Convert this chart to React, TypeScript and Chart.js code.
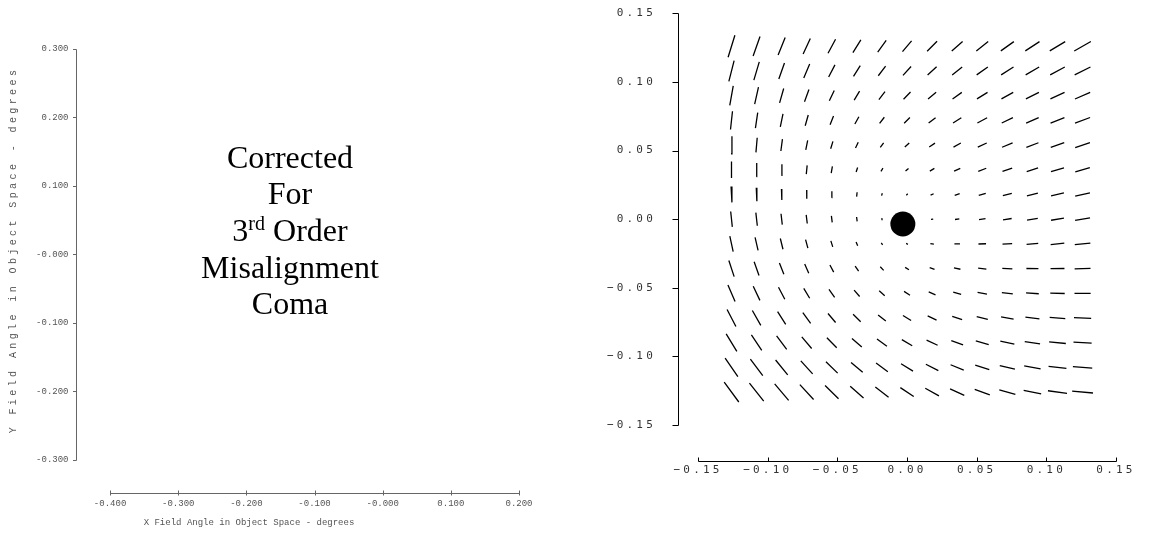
import React, { useEffect, useRef } from 'react';
import { Chart, registerables } from 'chart.js';

Chart.register(...registerables);

// ---------- Right panel: full-field display (line segments) ----------
const GRID_X = [-0.126, -0.108, -0.09, -0.072, -0.054, -0.036, -0.018, 0, 0.018, 0.036, 0.054, 0.072, 0.09, 0.108, 0.126];
const GRID_Y = [0.126, 0.108, 0.09, 0.072, 0.054, 0.036, 0.018, 0, -0.018, -0.036, -0.054, -0.072, -0.09, -0.108, -0.126];

// Astigmatism vector components per field point (rows top->bottom, columns left->right), arbitrary units
const ASTIG_X = [
  [-19.1, -16.4, -13.8, -11.4, -9.0, -6.7, -4.5, -2.4, -0.4, 1.5, 3.3, 5.0, 6.6, 8.1, 9.5],
  [-19.0, -16.1, -13.3, -10.6, -8.1, -5.7, -3.4, -1.3, 0.8, 2.7, 4.5, 6.1, 7.6, 9.0, 10.3],
  [-18.8, -15.7, -12.8, -10.0, -7.4, -4.9, -2.6, -0.4, 1.7, 3.6, 5.4, 7.0, 8.5, 9.8, 11.0],
  [-18.1, -15.1, -12.3, -9.6, -7.0, -4.5, -2.2, 0.0, 2.1, 4.0, 5.9, 7.6, 9.1, 10.6, 11.9],
  [-17.4, -14.5, -11.7, -9.0, -6.5, -4.1, -1.8, 0.4, 2.5, 4.4, 6.2, 7.9, 9.5, 10.9, 12.2],
  [-16.5, -13.8, -11.2, -8.7, -6.3, -3.9, -1.7, 0.4, 2.5, 4.4, 6.3, 8.0, 9.7, 11.2, 12.7],
  [-15.9, -13.5, -11.1, -8.8, -6.5, -4.3, -2.1, 0.0, 2.1, 4.1, 6.1, 8.0, 9.9, 11.7, 13.5],
  [-15.2, -12.9, -10.7, -8.5, -6.4, -4.2, -2.1, 0.0, 2.1, 4.1, 6.2, 8.2, 10.2, 12.2, 14.1],
  [-14.6, -12.2, -9.9, -7.6, -5.3, -3.0, -0.9, 1.3, 3.4, 5.5, 7.5, 9.5, 11.4, 13.3, 15.2],
  [-13.8, -11.4, -9.1, -6.9, -4.6, -2.4, -0.3, 1.8, 3.9, 6.0, 8.0, 9.9, 11.9, 13.8, 15.7],
  [-12.5, -10.2, -7.9, -5.7, -3.5, -1.3, 0.8, 2.9, 4.9, 6.8, 8.8, 10.6, 12.5, 14.3, 16.0],
  [-11.3, -9.0, -6.6, -4.4, -2.2, 0.0, 2.1, 4.2, 6.2, 8.1, 10.0, 11.8, 13.6, 15.3, 17.0],
  [-9.6, -7.3, -5.0, -2.7, -0.5, 1.6, 3.6, 5.6, 7.6, 9.4, 11.3, 13.0, 14.7, 16.3, 17.9],
  [-8.4, -6.2, -4.1, -2.0, 0.1, 2.2, 4.2, 6.1, 8.1, 10.0, 11.9, 13.7, 15.5, 17.3, 19.0],
  [-7.6, -5.7, -3.8, -1.9, 0.1, 2.0, 4.0, 6.0, 8.0, 10.0, 12.1, 14.1, 16.2, 18.3, 20.4],
];
const ASTIG_Y = [
  [12.9, 12.9, 13.0, 13.0, 13.2, 13.4, 13.6, 13.8, 14.1, 14.4, 14.7, 15.1, 15.5, 16.0, 16.5],
  [10.1, 10.3, 10.6, 10.8, 11.1, 11.4, 11.6, 11.9, 12.2, 12.5, 12.8, 13.2, 13.5, 13.8, 14.2],
  [6.8, 7.4, 7.8, 8.3, 8.8, 9.2, 9.6, 10.0, 10.4, 10.7, 11.1, 11.4, 11.7, 12.0, 12.3],
  [3.9, 4.5, 5.2, 5.8, 6.4, 7.0, 7.5, 8.0, 8.5, 8.9, 9.3, 9.7, 10.1, 10.4, 10.7],
  [1.8, 2.5, 3.1, 3.7, 4.3, 4.9, 5.4, 6.0, 6.5, 7.1, 7.6, 8.1, 8.6, 9.1, 9.5],
  [0.0, 0.6, 1.1, 1.7, 2.3, 2.8, 3.4, 4.0, 4.6, 5.1, 5.7, 6.3, 6.8, 7.4, 8.0],
  [-1.7, -1.2, -0.7, -0.2, 0.3, 0.9, 1.4, 2.0, 2.6, 3.2, 3.9, 4.5, 5.2, 5.9, 6.6],
  [-3.2, -2.9, -2.5, -2.1, -1.6, -1.1, -0.6, 0.0, 0.6, 1.3, 2.0, 2.7, 3.5, 4.3, 5.1],
  [-6.5, -5.8, -5.1, -4.4, -3.6, -2.9, -2.2, -1.5, -0.8, -0.2, 0.5, 1.2, 1.9, 2.6, 3.2],
  [-10.0, -9.1, -8.2, -7.4, -6.6, -5.7, -4.9, -4.1, -3.3, -2.6, -1.8, -1.1, -0.3, 0.4, 1.1],
  [-13.0, -12.0, -11.1, -10.1, -9.2, -8.3, -7.3, -6.4, -5.5, -4.6, -3.6, -2.7, -1.8, -0.9, 0.0],
  [-15.6, -14.6, -13.6, -12.6, -11.6, -10.6, -9.6, -8.5, -7.5, -6.5, -5.4, -4.4, -3.3, -2.3, -1.2],
  [-18.1, -17.1, -16.1, -15.0, -14.0, -12.9, -11.7, -10.6, -9.4, -8.2, -7.0, -5.8, -4.5, -3.2, -1.9],
  [-20.9, -19.8, -18.7, -17.5, -16.3, -15.1, -13.9, -12.6, -11.3, -9.9, -8.5, -7.1, -5.7, -4.2, -2.7],
  [-23.4, -22.3, -21.2, -20.1, -18.8, -17.6, -16.2, -14.8, -13.4, -11.9, -10.4, -8.7, -7.1, -5.4, -3.6],
];
const SEGMENT_SCALE = 1 / 1380; // data units per astigmatism unit
const NODE_POINT = [{ x: -0.003, y: -0.0035 }];

const RIGHT_TICKS = [-0.15, -0.1, -0.05, 0, 0.05, 0.1, 0.15];
const RIGHT_TICK_LABELS = ['\u22120.15', '\u22120.10', '\u22120.05', '0.00', '0.05', '0.10', '0.15'];

// ---------- Left panel ----------
const LEFT_X_TICKS = [-0.4, -0.3, -0.2, -0.1, 0, 0.1, 0.2];
const LEFT_X_LABELS = ['-0.400', '-0.300', '-0.200', '-0.100', '-0.000', '0.100', '0.200'];
const LEFT_Y_TICKS = [-0.3, -0.2, -0.1, 0, 0.1, 0.2, 0.3];
const LEFT_Y_LABELS = ['-0.300', '-0.200', '-0.100', '-0.000', '0.100', '0.200', '0.300'];
const LEFT_X_TITLE = 'X Field Angle in Object Space - degrees';
const LEFT_Y_TITLE = 'Y Field Angle in Object Space - degrees';

function axesPlugin(color: string, xTicks: number[], yTicks: number[], yTickLen: number, xUp: number, xDown: number) {
  return {
    id: 'detachedAxes',
    afterDraw(chart: any) {
      const { ctx, chartArea, scales } = chart;
      const xs = scales.x;
      const ys = scales.y;
      ctx.save();
      ctx.letterSpacing = '0px';
      ctx.strokeStyle = color;
      ctx.lineWidth = 1;
      const ax = Math.round(chartArea.left) + 0.5;
      const ay = Math.round(chartArea.bottom) + 0.5;
      ctx.beginPath();
      const yTop = Math.round(ys.getPixelForValue(yTicks[yTicks.length - 1])) + 0.5;
      const yBot = Math.round(ys.getPixelForValue(yTicks[0])) + 0.5;
      ctx.moveTo(ax, yTop);
      ctx.lineTo(ax, yBot);
      yTicks.forEach((v) => {
        const p = Math.round(ys.getPixelForValue(v)) + 0.5;
        ctx.moveTo(ax - yTickLen, p);
        ctx.lineTo(ax, p);
      });
      const xL = Math.round(xs.getPixelForValue(xTicks[0])) + 0.5;
      const xR = Math.round(xs.getPixelForValue(xTicks[xTicks.length - 1])) + 0.5;
      ctx.moveTo(xL, ay);
      ctx.lineTo(xR, ay);
      xTicks.forEach((v) => {
        const p = Math.round(xs.getPixelForValue(v)) + 0.5;
        ctx.moveTo(p, ay - xUp);
        ctx.lineTo(p, ay + xDown);
      });
      ctx.stroke();
      ctx.restore();
    },
  };
}

const spacingPlugin = (spacing: string) => ({
  id: 'letterSpacing',
  beforeLayout(chart: any) {
    chart.ctx.letterSpacing = spacing;
  },
  beforeDraw(chart: any) {
    chart.ctx.letterSpacing = spacing;
  },
});

function noScalePadding(s: any) {
  s.paddingTop = 0;
  s.paddingBottom = 0;
  s.paddingLeft = 0;
  s.paddingRight = 0;
}

function buildSegments() {
  const pts: { x: number; y: number | null }[] = [];
  GRID_Y.forEach((gy, r) => {
    GRID_X.forEach((gx, c) => {
      const wx = ASTIG_X[r][c];
      const wy = ASTIG_Y[r][c];
      const len = Math.hypot(wx, wy) * SEGMENT_SCALE;
      const ang = Math.atan2(wy, wx) / 2;
      const hx = (Math.cos(ang) * len) / 2;
      const hy = (Math.sin(ang) * len) / 2;
      pts.push({ x: gx - hx, y: gy - hy }, { x: gx + hx, y: gy + hy }, { x: gx, y: null });
    });
  });
  return pts;
}

function LeftPanel() {
  const ref = useRef<HTMLCanvasElement>(null);
  useEffect(() => {
    if (!ref.current) return;
    const font = { family: '"Liberation Mono", monospace', size: 9 };
    const chart = new Chart(ref.current, {
      type: 'scatter',
      data: { datasets: [{ data: [], pointRadius: 0 }] },
      options: {
        animation: false,
        responsive: false,
        devicePixelRatio: 1,
        events: [],
        layout: { padding: { left: 0, top: 49, right: 71, bottom: 0 } },
        plugins: { legend: { display: false }, tooltip: { enabled: false } },
        scales: {
          x: {
            type: 'linear',
            min: -0.45,
            max: 0.2,
            grid: { display: false, drawTicks: false },
            border: { display: false },
            afterBuildTicks: (s: any) => {
              s.ticks = LEFT_X_TICKS.map((v) => ({ value: v }));
            },
            afterFit: (s: any) => {
              s.height = 44;
              noScalePadding(s);
            },
            ticks: {
              autoSkip: false,
              maxRotation: 0,
              minRotation: 0,
              padding: 5,
              color: '#555',
              font,
              callback: (_v: any, i: number) => LEFT_X_LABELS[i],
            },
          },
          y: {
            type: 'linear',
            min: -0.3482,
            max: 0.3,
            grid: { display: false, drawTicks: false },
            border: { display: false },
            afterBuildTicks: (s: any) => {
              s.ticks = LEFT_Y_TICKS.map((v) => ({ value: v }));
            },
            afterFit: (s: any) => {
              s.width = 76;
              noScalePadding(s);
            },
            ticks: {
              autoSkip: false,
              padding: 7.5,
              color: '#555',
              font,
              callback: (_v: any, i: number) => LEFT_Y_LABELS[i],
            },
          },
        },
      },
      plugins: [axesPlugin('#666', LEFT_X_TICKS, LEFT_Y_TICKS, 3.5, 3, 2)],
    } as any);
    return () => chart.destroy();
  }, []);
  return <canvas ref={ref} width={590} height={537} style={{ position: 'absolute', left: 0, top: 0 }} />;
}

function RightPanel() {
  const ref = useRef<HTMLCanvasElement>(null);
  useEffect(() => {
    if (!ref.current) return;
    const font = { family: '"DejaVu Sans Mono", monospace', size: 11 };
    const chart = new Chart(ref.current, {
      type: 'scatter',
      data: {
        datasets: [
          {
            data: buildSegments(),
            showLine: true,
            spanGaps: false,
            borderColor: '#000',
            borderWidth: 1.3,
            pointRadius: 0,
            pointHoverRadius: 0,
          },
          {
            data: NODE_POINT,
            showLine: false,
            pointRadius: 12.5,
            pointHoverRadius: 12.5,
            backgroundColor: '#000',
            borderWidth: 0,
          },
        ],
      },
      options: {
        animation: false,
        responsive: false,
        devicePixelRatio: 1,
        events: [],
        layout: { padding: { left: 0, top: 13.3, right: 35, bottom: 0 } },
        plugins: { legend: { display: false }, tooltip: { enabled: false } },
        scales: {
          x: {
            type: 'linear',
            min: -0.1644,
            max: 0.15,
            grid: { display: false, drawTicks: false },
            border: { display: false },
            afterBuildTicks: (s: any) => {
              s.ticks = RIGHT_TICKS.map((v) => ({ value: v }));
            },
            afterFit: (s: any) => {
              s.height = 76;
              noScalePadding(s);
            },
            ticks: {
              autoSkip: false,
              maxRotation: 0,
              minRotation: 0,
              padding: 3,
              color: '#333',
              font,
              callback: (_v: any, i: number) => RIGHT_TICK_LABELS[i],
            },
          },
          y: {
            type: 'linear',
            min: -0.1762,
            max: 0.15,
            grid: { display: false, drawTicks: false },
            border: { display: false },
            afterBuildTicks: (s: any) => {
              s.ticks = RIGHT_TICKS.map((v) => ({ value: v }));
            },
            afterFit: (s: any) => {
              s.width = 88;
              noScalePadding(s);
            },
            ticks: {
              autoSkip: false,
              padding: 22,
              color: '#333',
              font,
              callback: (_v: any, i: number) => RIGHT_TICK_LABELS[i],
            },
          },
        },
      },
      plugins: [spacingPlugin('3.2px'), axesPlugin('#000', RIGHT_TICKS, RIGHT_TICKS, 6, 4, 0)],
    } as any);
    return () => chart.destroy();
  }, []);
  return <canvas ref={ref} width={561} height={537} style={{ position: 'absolute', left: 590, top: 0 }} />;
}

export default function App() {
  const serif = '"Liberation Serif", "Times New Roman", serif';
  const mono = '"Liberation Mono", monospace';
  return (
    <div style={{ position: 'absolute', left: 0, top: 0, width: 1151, height: 537, overflow: 'hidden', background: '#fff' }}>
      <LeftPanel />
      <RightPanel />
      <div
        style={{
          position: 'absolute',
          left: 140,
          top: 138.5,
          width: 300,
          textAlign: 'center',
          fontFamily: serif,
          fontSize: 32,
          lineHeight: '36.7px',
          color: '#000',
        }}
      >
        <div>Corrected</div>
        <div>For</div>
        <div>
          3<span style={{ fontSize: 20, position: 'relative', top: -11, lineHeight: 0 }}>rd</span> Order
        </div>
        <div>Misalignment</div>
        <div>Coma</div>
      </div>
      <div
        style={{
          position: 'absolute',
          left: 99,
          top: 517,
          width: 300,
          textAlign: 'center',
          fontFamily: mono,
          fontSize: 9,
          lineHeight: '12px',
          color: '#555',
          whiteSpace: 'pre',
        }}
      >
        {LEFT_X_TITLE}
      </div>
      <div
        style={{
          position: 'absolute',
          left: 14 - 200,
          top: 249.5 - 6,
          width: 400,
          height: 12,
          textAlign: 'center',
          fontFamily: mono,
          fontSize: 10,
          lineHeight: '12px',
          letterSpacing: '3.4px',
          color: '#555',
          whiteSpace: 'pre',
          transform: 'rotate(-90deg)',
        }}
      >
        {LEFT_Y_TITLE}
      </div>
    </div>
  );
}
